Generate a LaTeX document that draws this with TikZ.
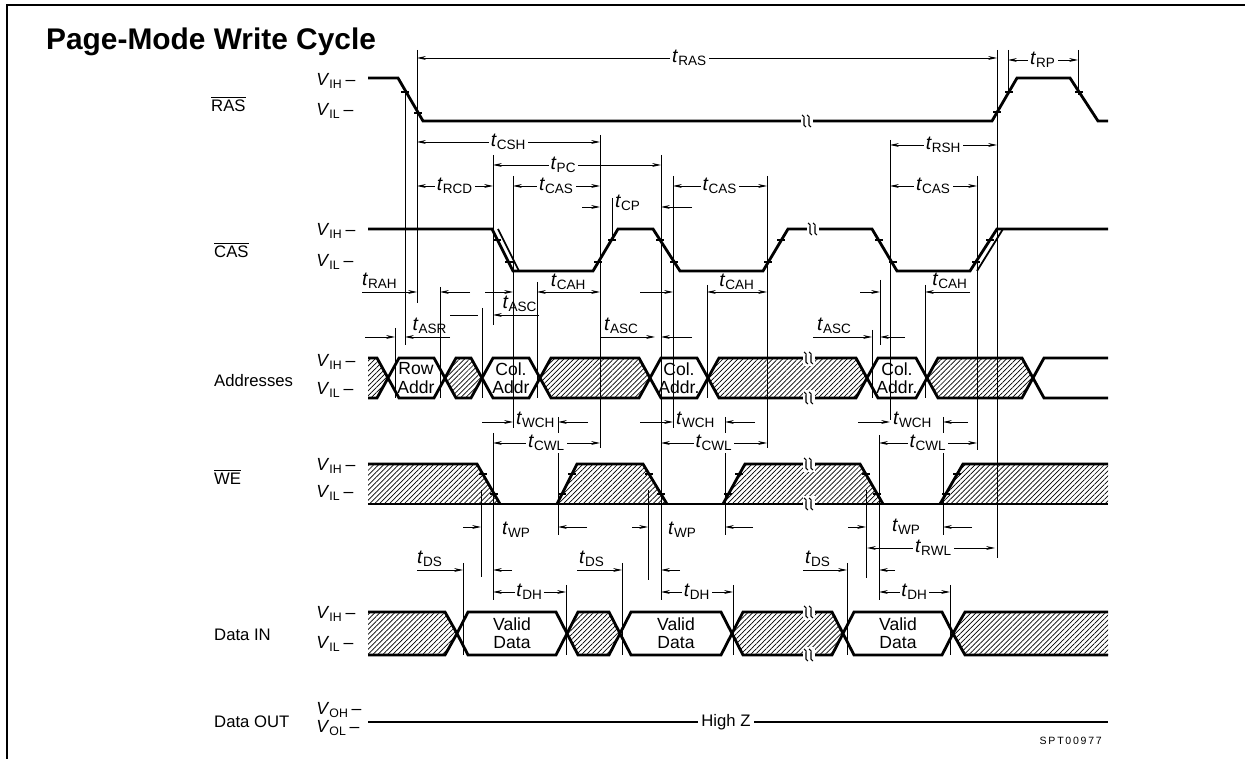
\documentclass[tikz,border=0pt]{standalone}
\usepackage{fontspec}
\setmainfont{Liberation Sans}
\usetikzlibrary{arrows.meta, patterns.meta}

\newcommand{\tm}[1]{\textit{t}\textsubscript{#1}}
\newcommand{\lv}[1]{\textit{V}\textsubscript{#1}\,\textendash}
% bus cell: [options]{x start}{x end}{y top}{y bottom}
\newcommand{\hexa}[5][fill=white]{%
  \draw[sig,#1] (#2,{(#4+#5)/2}) -- ({#2+11},#4) -- ({#3-11},#4)
    -- (#3,{(#4+#5)/2}) -- ({#3-11},#5) -- ({#2+11},#5) -- cycle;}

\tikzset{
  sig/.style={line width=1.6pt, line join=miter},
  hatch/.style={pattern={Lines[angle=45,distance=2pt,line width=0.4pt]}},
  guide/.style={line width=0.5pt},
  dim/.style={line width=0.5pt},
  arr/.style={-{Stealth[length=5pt,width=2.2pt]}},
  arr2/.style={{Stealth[length=5pt,width=2.2pt]}-{Stealth[length=5pt,width=2.2pt]}},
  tlab/.style={font=\fontsize{11}{12}\selectfont, inner sep=1pt},
  tlabw/.style={tlab, fill=white},
  sname/.style={font=\fontsize{9.5}{10}\selectfont, anchor=west},
  lvl/.style={font=\fontsize{10}{10}\selectfont, anchor=west, inner sep=0pt},
  bustxt/.style={font=\fontsize{10}{10.5}\selectfont, align=center, inner sep=0pt},
  brk/.pic={
    \fill[white] (-5,-8) rectangle (7,8);
    \draw[line width=0.6pt] (-4,-6) .. controls (1,-6) and (-5,6) .. (0,6);
    \draw[line width=0.6pt] (1,-6) .. controls (6,-6) and (0,6) .. (5,6);
  }
}

\begin{document}
\begin{tikzpicture}[x=0.02cm, y=-0.02cm]
\useasboundingbox (0,0) rectangle (1245,759);

% frame and title
\draw[line width=0.8pt] (7,759) -- (7,5) -- (1245,5);
\node[anchor=west, font=\fontsize{17}{18}\selectfont\bfseries] (title) at (40,42) {Page-Mode Write Cycle};

% signal names
\node[sname] (nras) at (205,104) {$\overline{\mbox{RAS}}$};
\node[sname] (ncas) at (208,250) {$\overline{\mbox{CAS}}$};
\node[sname] (nadr) at (208,381) {Addresses};
\node[sname] (nwe)  at (208,477) {$\overline{\mbox{WE}}$};
\node[sname] (ndin) at (208,635) {Data IN};
\node[sname] (ndot) at (208,722) {Data OUT};

% level marks
\foreach \y/\s in {81/IH, 111/IL, 231/IH, 262/IL, 362/IH, 390/IL,
                   466/IH, 493/IL, 614/IH, 644/IL}
  \node[lvl] (lv\y) at (316,\y) {\lv{\s}};
\node[lvl] (lvoh) at (316,710) {\lv{OH}};
\node[lvl] (lvol) at (316,728) {\lv{OL}};

% RAS
\draw[sig] (368,78) -- (398,78) -- (423,121) -- (992,121) -- (1017,78)
  -- (1070,78) -- (1098,121) -- (1108,121);
\pic at (806,121) {brk};

% CAS
\draw[sig] (368,229) -- (492,229) -- (513,271) -- (593,271) -- (618,229)
  -- (653,229) -- (680,271) -- (763,271) -- (788,229) -- (872,229)
  -- (897,271) -- (970,271) -- (997,229) -- (1108,229);
\draw[line width=1pt] (498,229) -- (519,271);
\draw[line width=1pt] (977,271) -- (1003,229);
\pic at (812,229) {brk};

% Addresses
\fill[hatch] (368,358) -- (377,358) -- (388,378) -- (377,398) -- (368,398) -- cycle;
\draw[sig] (368,358) -- (377,358) -- (388,378) -- (377,398) -- (368,398);
\hexa{388}{445}{358}{398}
\hexa[hatch]{445}{482}{358}{398}
\hexa{482}{540}{358}{398}
\hexa[hatch]{540}{650}{358}{398}
\hexa{650}{708}{358}{398}
\hexa[hatch]{708}{867}{358}{398}
\hexa{867}{927}{358}{398}
\hexa[hatch]{927}{1033}{358}{398}
\draw[sig] (1108,358) -- (1044,358) -- (1033,378) -- (1044,398) -- (1108,398);
\pic at (808,358) {brk};
\pic at (808,398) {brk};

% WE
\fill[hatch] (368,464) -- (477,464) -- (500,504) -- (368,504) -- cycle;
\fill[hatch] (557,504) -- (577,464) -- (643,464) -- (667,504) -- cycle;
\fill[hatch] (723,504) -- (745,464) -- (860,464) -- (883,504) -- cycle;
\fill[hatch] (940,504) -- (963,464) -- (1108,464) -- (1108,504) -- cycle;
\draw[sig] (368,464) -- (477,464) -- (500,504);
\draw[sig] (557,504) -- (577,464) -- (643,464) -- (667,504);
\draw[sig] (723,504) -- (745,464) -- (860,464) -- (883,504);
\draw[sig] (940,504) -- (963,464) -- (1108,464);
\draw[sig] (368,504) -- (1108,504);
\pic at (808,464) {brk};
\pic at (808,504) {brk};

% Data IN
\fill[hatch] (368,612) -- (445,612) -- (457,633.5) -- (445,655) -- (368,655) -- cycle;
\draw[sig] (368,612) -- (445,612) -- (457,633.5) -- (445,655) -- (368,655);
\hexa{457}{567}{612}{655}
\hexa[hatch]{567}{620}{612}{655}
\hexa{620}{732}{612}{655}
\hexa[hatch]{732}{843}{612}{655}
\hexa{843}{953}{612}{655}
\fill[hatch] (1108,612) -- (965,612) -- (953,633.5) -- (965,655) -- (1108,655) -- cycle;
\draw[sig] (1108,612) -- (965,612) -- (953,633.5) -- (965,655) -- (1108,655);
\pic at (808,612) {brk};
\pic at (808,655) {brk};

% Data OUT
\draw[sig] (368,722) -- (1108,722);
\node[fill=white, inner sep=2pt, font=\fontsize{9.5}{10}\selectfont] (hiz) at (726,722) {High Z};
\node[font=\fontsize{6}{7}\selectfont, anchor=east] (code) at (1108,741) {S\,P\,T\,0\,0\,9\,7\,7};

% bus texts
\node[bustxt] (rowa) at (416,378) {Row\\Addr};
\node[bustxt] (cola) at (511,378) {Col.\\Addr};
\node[bustxt] (colb) at (679,378) {Col.\\Addr.};
\node[bustxt] (colc) at (897,378) {Col.\\Addr.};
\node[bustxt] (vda) at (512,633) {Valid\\Data};
\node[bustxt] (vdb) at (676,633) {Valid\\Data};
\node[bustxt] (vdc) at (898,633) {Valid\\Data};

% edge ticks
\foreach \x/\y in {405/92, 418/113, 997/112, 1009/92, 1079/92,
    497/240, 509/262, 598/262, 612/240, 660/240, 674/262,
    768/262, 781/240, 879/240, 893/262, 976/262, 990/240,
    483/474, 494/494, 562/494, 572/474, 649/474, 661/494,
    728/494, 739/474, 866/474, 877/494, 946/494, 957/474}
  \draw[line width=0.6pt] (\x-4,\y) -- (\x+4,\y);

% guide lines
\foreach \x/\a/\b in {405/92/345, 417/50/303, 395/328/398, 440/287/398,
    482/308/398, 493/155/325, 493/433/600, 513/176/428, 537/282/398,
    600/135/448, 612/198/240, 661/155/600, 673/176/428, 707/285/398,
    767/176/448, 872/330/398, 880/280/345, 890/140/420, 879/435/600,
    925/285/398, 977/176/450, 997/50/558, 1008/50/95, 1078/50/95,
    463/563/655, 481/490/577, 558/417/535, 566/585/655, 622/563/655,
    648/490/580, 725/417/535, 733/585/655, 847/563/655, 866/490/578,
    943/417/535, 950/585/655}
  \draw[guide] (\x,\a) -- (\x,\b);

% RAS timings
\draw[dim,arr2] (417,58) -- (997,58) node[tlabw, pos=0.47] (tras) {\tm{RAS}};
\draw[dim,arr2] (1008,60) -- (1078,60) node[tlabw, midway] (trp) {\tm{RP}};
\draw[dim,arr2] (417,142) -- (600,142) node[tlabw, midway] (tcsh) {\tm{CSH}};
\draw[dim,arr2] (493,165) -- (661,165) node[tlabw, pos=0.42] (tpc) {\tm{PC}};
\draw[dim,arr2] (417,186) -- (493,186) node[tlabw, midway] (trcd) {\tm{RCD}};
\draw[dim,arr2] (513,186) -- (600,186) node[tlabw, midway] (tcas1) {\tm{CAS}};
\draw[dim,arr2] (673,186) -- (767,186) node[tlabw, midway] (tcas2) {\tm{CAS}};
\draw[dim,arr2] (890,145) -- (997,145) node[tlabw, midway] (trsh) {\tm{RSH}};
\draw[dim,arr2] (890,186) -- (977,186) node[tlabw, midway] (tcas3) {\tm{CAS}};

% CAS precharge
\draw[dim,arr] (582,207) -- (600,207);
\node[tlab, anchor=west] (tcp) at (613,203) {\tm{CP}};
\draw[dim,arr] (692,207) -- (661,207);

% address timings
\draw[dim,arr] (362,292) -- (417,292);
\node[tlab, anchor=south west] (trah) at (360,291) {\tm{RAH}};
\draw[dim,arr] (470,292) -- (440,292);
\draw[dim,arr] (485,292) -- (513,292);
\draw[dim,arr2] (537,292) -- (600,292) node[tlab, midway, above] (tcah1) {\tm{CAH}};
\draw[dim,arr] (640,292) -- (673,292);
\draw[dim,arr2] (707,292) -- (767,292) node[tlab, midway, above] (tcah2) {\tm{CAH}};
\draw[dim,arr] (860,292) -- (880,292);
\draw[dim,arr] (970,292) -- (925,292);
\node[tlab, anchor=south] (tcah3) at (950,291) {\tm{CAH}};

\draw[dim] (450,315) -- (478,315);
\draw[dim,arr] (539,315) -- (493,315);
\node[tlab, anchor=south] (tasc1) at (520,314) {\tm{ASC}};

\draw[dim,arr] (365,337) -- (395,337);
\draw[dim,arr] (450,337) -- (405,337);
\node[tlab, anchor=south] (tasr) at (430,336) {\tm{ASR}};
\draw[dim,arr] (600,337) -- (655,337);
\node[tlab, anchor=south west] (tasc2) at (602,336) {\tm{ASC}};
\draw[dim,arr] (692,337) -- (661,337);
\draw[dim,arr] (813,337) -- (872,337);
\node[tlab, anchor=south west] (tasc3) at (815,336) {\tm{ASC}};
\draw[dim,arr] (905,337) -- (880,337);

% WE timings
\draw[dim,arr] (482,422) -- (513,422);
\node[tlab, anchor=west] (twch1) at (514,420) {\tm{WCH}};
\draw[dim,arr] (588,422) -- (558,422);
\draw[dim,arr] (640,422) -- (673,422);
\node[tlab, anchor=west] (twch2) at (674,420) {\tm{WCH}};
\draw[dim,arr] (755,422) -- (725,422);
\draw[dim,arr] (858,422) -- (890,422);
\node[tlab, anchor=west] (twch3) at (891,420) {\tm{WCH}};
\draw[dim,arr] (968,422) -- (943,422);

\draw[dim,arr2] (493,443) -- (600,443) node[tlabw, midway] (tcwl1) {\tm{CWL}};
\draw[dim,arr2] (661,443) -- (767,443) node[tlabw, midway] (tcwl2) {\tm{CWL}};
\draw[dim,arr2] (879,443) -- (977,443) node[tlabw, midway] (tcwl3) {\tm{CWL}};

\draw[dim,arr] (463,527) -- (481,527);
\node[tlab, anchor=west] (twp1) at (500,530) {\tm{WP}};
\draw[dim,arr] (587,527) -- (558,527);
\draw[dim,arr] (632,527) -- (648,527);
\node[tlab, anchor=west] (twp2) at (666,530) {\tm{WP}};
\draw[dim,arr] (753,527) -- (725,527);
\draw[dim,arr] (848,527) -- (866,527);
\node[tlab, anchor=west] (twp3) at (890,527) {\tm{WP}};
\draw[dim,arr] (972,527) -- (943,527);
\draw[dim,arr2] (867,548) -- (995,548) node[tlabw, pos=0.52] (trwl) {\tm{RWL}};

% data timings
\draw[dim,arr] (417,570) -- (463,570);
\node[tlab, anchor=south west] (tds1) at (415,569) {\tm{DS}};
\draw[dim,arr] (512,570) -- (493,570);
\draw[dim,arr] (577,570) -- (622,570);
\node[tlab, anchor=south west] (tds2) at (577,569) {\tm{DS}};
\draw[dim,arr] (680,570) -- (661,570);
\draw[dim,arr] (803,570) -- (847,570);
\node[tlab, anchor=south west] (tds3) at (803,569) {\tm{DS}};
\draw[dim,arr] (895,570) -- (879,570);

\draw[dim,arr2] (493,592) -- (566,592) node[tlabw, midway] (tdh1) {\tm{DH}};
\draw[dim,arr2] (661,592) -- (733,592) node[tlabw, midway] (tdh2) {\tm{DH}};
\draw[dim,arr2] (879,592) -- (950,592) node[tlabw, midway] (tdh3) {\tm{DH}};

\end{tikzpicture}
\end{document}
